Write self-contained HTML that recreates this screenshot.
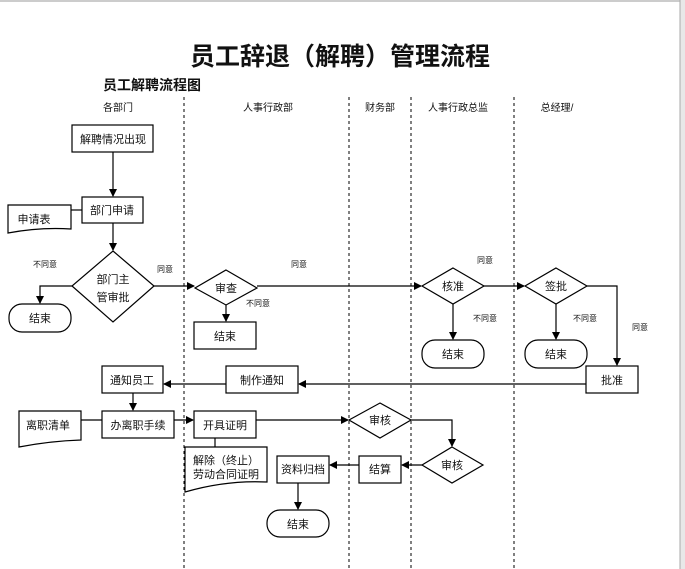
<!DOCTYPE html>
<html><head><meta charset="utf-8"><style>
html,body{margin:0;padding:0;background:#fff;}
svg{display:block;}
text{font-family:"Liberation Sans","Noto Sans CJK SC",sans-serif;fill:#111;}
</style></head><body>
<svg width="685" height="569" viewBox="0 0 685 569" xmlns="http://www.w3.org/2000/svg">
<defs><marker id="a" markerWidth="8" markerHeight="8" refX="7" refY="4" orient="auto" markerUnits="userSpaceOnUse"><path d="M0,0 L8,4 L0,8 z" fill="#000"/></marker></defs>
<rect x="0" y="0" width="685" height="2" fill="#ccc"/>
<rect x="680" y="0" width="5" height="569" fill="#e8e8e8"/>
<line x1="680" y1="0" x2="680" y2="569" stroke="#aaa"/>
<text x="340" y="65" font-size="25" font-weight="bold" text-anchor="middle">员工辞退（解聘）管理流程</text>
<text x="103" y="90" font-size="14" font-weight="bold">员工解聘流程图</text>
<g font-size="10" text-anchor="middle">
<text x="118" y="111">各部门</text><text x="268" y="111">人事行政部</text><text x="380" y="111">财务部</text><text x="458" y="111">人事行政总监</text><text x="557" y="111">总经理/</text>
</g>
<g stroke="#000" stroke-dasharray="3,3" stroke-width="1">
<line x1="184" y1="97" x2="184" y2="569"/><line x1="349" y1="97" x2="349" y2="569"/><line x1="411" y1="97" x2="411" y2="569"/><line x1="514" y1="97" x2="514" y2="569"/>
</g>
<g fill="#fff" stroke="#000" stroke-width="1.2">
<rect x="72" y="125" width="81" height="27"/>
<rect x="82" y="197" width="61" height="26"/>
<path d="M8,205 H71 V229 Q40,227 8,233 Z"/>
<polygon points="113,251 154,286 113,322 72,286"/>
<rect x="9" y="304" width="62" height="28" rx="13"/>
<polygon points="226,270 257,288 226,305 195,288"/>
<rect x="194" y="322" width="62" height="27"/>
<polygon points="453,268 484,286 453,304 422,286"/>
<rect x="422" y="340" width="62" height="28" rx="13"/>
<polygon points="556,268 587,286 556,304 525,286"/>
<rect x="525" y="340" width="62" height="28" rx="13"/>
<rect x="586" y="366" width="52" height="27"/>
<rect x="226" y="366" width="72" height="27"/>
<rect x="102" y="366" width="61" height="27"/>
<rect x="102" y="411" width="72" height="27"/>
<path d="M19,411 H81 V440 Q50,441 19,447 Z"/>
<rect x="194" y="411" width="62" height="27"/>
<path d="M185,447 H267 V482 Q226,480 185,492 Z"/>
<polygon points="380,403 411,420 380,438 349,420"/>
<polygon points="452,447 483,465 452,483 422,465"/>
<rect x="359" y="456" width="42" height="27"/>
<rect x="277" y="456" width="52" height="27"/>
<rect x="267" y="510" width="62" height="27" rx="13"/>
</g>
<g stroke="#000" stroke-width="1.2" fill="none">
<line x1="113" y1="152" x2="113" y2="196" marker-end="url(#a)"/>
<line x1="71" y1="210" x2="82" y2="210"/>
<line x1="113" y1="223" x2="113" y2="250" marker-end="url(#a)"/>
<polyline points="72,286 40,286 40,303" marker-end="url(#a)"/>
<line x1="154" y1="286" x2="194" y2="286" marker-end="url(#a)"/>
<line x1="226" y1="305" x2="226" y2="321" marker-end="url(#a)"/>
<line x1="257" y1="286" x2="421" y2="286" marker-end="url(#a)"/>
<line x1="453" y1="304" x2="453" y2="339" marker-end="url(#a)"/>
<line x1="484" y1="286" x2="524" y2="286" marker-end="url(#a)"/>
<line x1="556" y1="304" x2="556" y2="339" marker-end="url(#a)"/>
<polyline points="587,286 617,286 617,365" marker-end="url(#a)"/>
<line x1="586" y1="384" x2="299" y2="384" marker-end="url(#a)"/>
<line x1="226" y1="384" x2="164" y2="384" marker-end="url(#a)"/>
<line x1="133" y1="393" x2="133" y2="410" marker-end="url(#a)"/>
<line x1="81" y1="420" x2="102" y2="420"/>
<line x1="174" y1="420" x2="193" y2="420" marker-end="url(#a)"/>
<line x1="215" y1="438" x2="215" y2="447"/>
<line x1="256" y1="420" x2="348" y2="420" marker-end="url(#a)"/>
<polyline points="411,420 452,420 452,446" marker-end="url(#a)"/>
<line x1="422" y1="465" x2="402" y2="465" marker-end="url(#a)"/>
<line x1="359" y1="465" x2="330" y2="465" marker-end="url(#a)"/>
<line x1="298" y1="483" x2="298" y2="509" marker-end="url(#a)"/>
</g>
<g font-size="11" text-anchor="middle">
<text x="113" y="143">解聘情况出现</text>
<text x="112" y="214">部门申请</text>
<text x="34" y="223">申请表</text>
<text x="113" y="283">部门主</text><text x="113" y="301">管审批</text>
<text x="40" y="322">结束</text>
<text x="226" y="292">审查</text>
<text x="225" y="340">结束</text>
<text x="453" y="290">核准</text>
<text x="453" y="358">结束</text>
<text x="556" y="290">签批</text>
<text x="556" y="358">结束</text>
<text x="612" y="384">批准</text>
<text x="262" y="384">制作通知</text>
<text x="132" y="384">通知员工</text>
<text x="138" y="429">办离职手续</text>
<text x="48" y="429">离职清单</text>
<text x="225" y="429">开具证明</text>
<text x="226" y="464">解除（终止）</text><text x="226" y="478">劳动合同证明</text>
<text x="380" y="424">审核</text>
<text x="452" y="469">审核</text>
<text x="380" y="473">结算</text>
<text x="303" y="473">资料归档</text>
<text x="298" y="528">结束</text>
</g>
<g font-size="8" text-anchor="middle">
<text x="45" y="267">不同意</text>
<text x="165" y="272">同意</text>
<text x="258" y="306">不同意</text>
<text x="299" y="267">同意</text>
<text x="485" y="263">同意</text>
<text x="485" y="321">不同意</text>
<text x="585" y="321">不同意</text>
<text x="640" y="330">同意</text>
</g>
</svg>
</body></html>
